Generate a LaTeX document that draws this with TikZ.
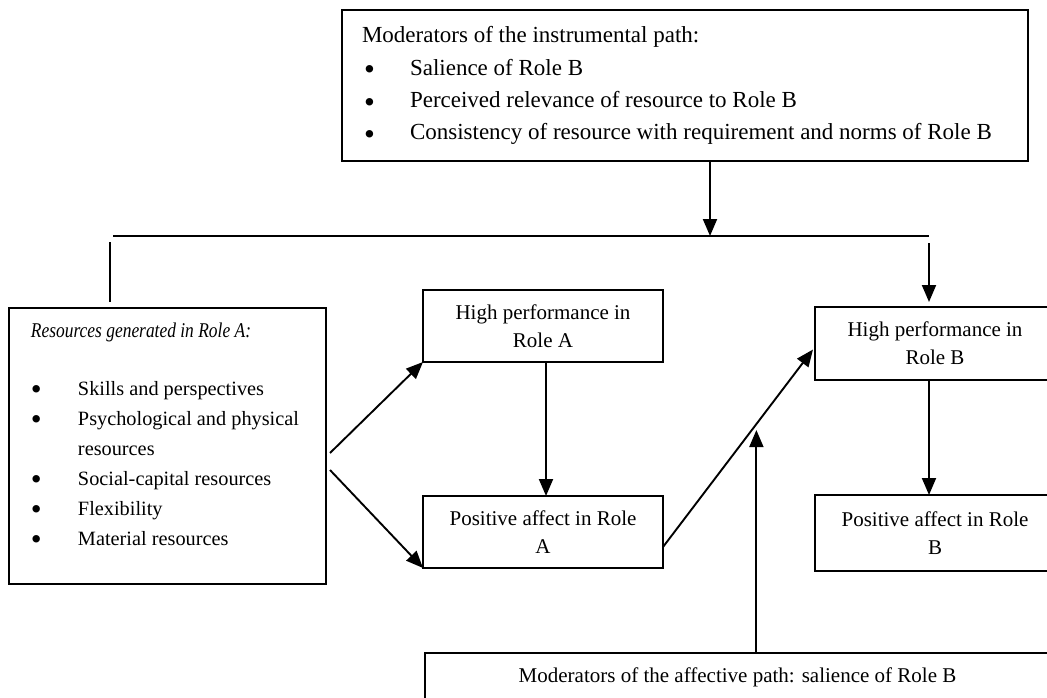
\documentclass[tikz,border=0pt]{standalone}
\usepackage{fontspec}
\setmainfont{Liberation Serif}
\usepackage{graphicx}
\usetikzlibrary{arrows.meta,calc}
\newcommand\bigbul{{\fontsize{31}{31}\selectfont\raisebox{-4.5pt}{\textbullet}}}
\begin{document}
\begin{tikzpicture}[x=1pt,y=-1pt,
  box/.style={draw, line width=1.6pt, inner sep=0pt, outer sep=0pt, rectangle},
  smallbox/.style={box, minimum width=240pt, align=center, anchor=north west},
  conn/.style={line width=1.9pt},
  arr/.style={conn, -{Triangle[width=14pt,length=17pt]}},
  every node/.style={font=\fontsize{21}{28}\selectfont}
]
\useasboundingbox (0,0) rectangle (1047,698);
\clip (0,0) rectangle (1047,698);

% top box
\node[box, minimum width=686pt, minimum height=151pt, anchor=north west] (tb) at (342,10)
{\begin{minipage}[t][151pt][t]{686pt}\fontsize{23}{32.3}\selectfont\parindent=0pt\leftskip=20pt
\rule{0pt}{33pt}Moderators of the instrumental path:\\
\makebox[48pt][l]{\hspace*{2pt}\bigbul}Salience of Role B\\
\makebox[48pt][l]{\hspace*{2pt}\bigbul}Perceived relevance of resource to Role B\\
\makebox[48pt][l]{\hspace*{2pt}\bigbul}Consistency of resource with requirement and norms of Role B
\end{minipage}};

% left box
\node[box, minimum width=317pt, minimum height=276pt, anchor=north west] (lb) at (9,308)
{\begin{minipage}[t][276pt][t]{317pt}\fontsize{20.3}{30}\selectfont\parindent=0pt\leftskip=22pt
\rule{0pt}{29pt}\scalebox{0.83}[1]{\fontsize{21}{30}\selectfont\textit{Resources generated in Role A:}}\\[28pt]
\makebox[47pt][l]{\bigbul}Skills and perspectives\\
\makebox[47pt][l]{\bigbul}Psychological and physical\\
\hspace*{47pt}resources\\
\makebox[47pt][l]{\bigbul}Social-capital resources\\
\makebox[47pt][l]{\bigbul}Flexibility\\
\makebox[47pt][l]{\bigbul}Material resources
\end{minipage}};

% role boxes
\node[smallbox, minimum height=72pt] (ha) at (423,290) {High performance in\\Role A};
\node[smallbox, minimum height=72pt] (pa) at (423,496) {Positive affect in Role\\A};
\node[smallbox, minimum height=73pt] (hb) at (815,307) {High performance in\\Role B};
\node[smallbox, minimum height=76pt] (pb) at (815,495) {Positive affect in Role\\B};

% bottom box
\node[box, minimum width=625pt, minimum height=49pt, anchor=north west] (bb) at (425,653)
{Moderators of the affective path: salience of Role B};

% connectors
\coordinate (jn) at (710,236);
\coordinate (hl) at (113,236);
\coordinate (hr) at (929,236);
\coordinate (vl) at (110,242);
\coordinate (vr) at (929,243);

\draw[arr] (tb.south -| jn) -- (jn);
\draw[conn] (hl) -- (hr);
\draw[conn, shorten >=6pt] (vl) -- (vl |- lb.north);
\draw[arr, shorten >=5pt] (vr) -- (vr |- hb.north);

\draw[arr] ($(ha.south)+(3,0)$) -- ($(pa.north)+(3,0)$);
\draw[arr] (hb.south -| vr) -- (pb.north -| vr);

\draw[arr] ($(lb.east)+(4,7)$) -- (ha.south west);
\draw[arr] ($(lb.east)+(4,24)$) -- (pa.south west);

\draw[arr] ($(pa.east)+(0,15)$) -- coordinate[pos=0.6225] (dm) ($(hb.west)+(-2,6)$);
\draw[arr] (bb.north -| dm) -- ($(dm)+(0,6)$);
\end{tikzpicture}
\end{document}
